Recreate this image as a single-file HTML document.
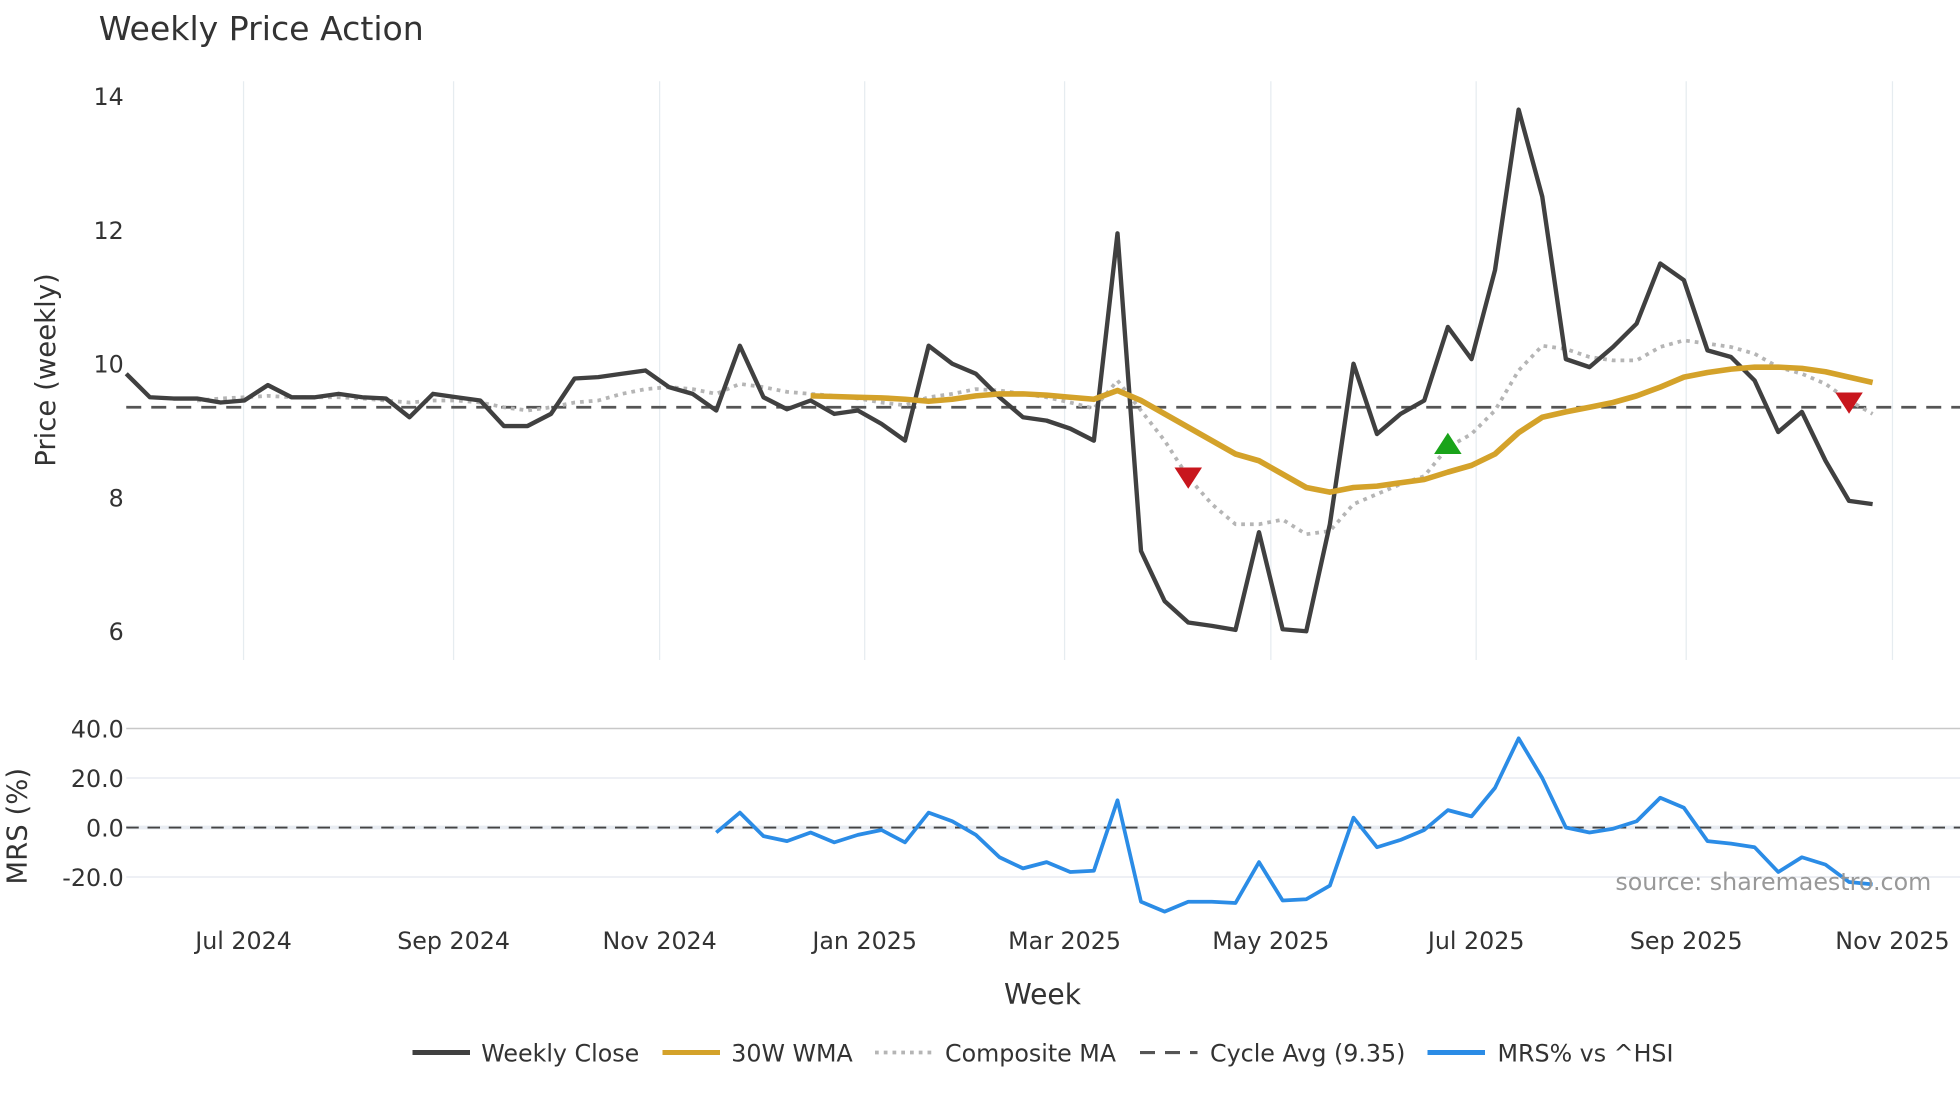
<!DOCTYPE html>
<html><head><meta charset="utf-8">
<style>
html,body{margin:0;padding:0;background:#fff;}
svg{display:block;font-family:"DejaVu Sans","Liberation Sans",sans-serif;}
</style></head>
<body>
<svg id="chart" width="1960" height="1102" viewBox="0 0 1568 881.6" xmlns="http://www.w3.org/2000/svg">
<rect width="1568" height="881.6" fill="#fff"/>
<text x="79" y="32" font-size="26.5" fill="#333">Weekly Price Action</text>
<g id="grid"></g>
<g id="series"></g>
<text transform="translate(44,296) rotate(-90)" text-anchor="middle" font-size="22" fill="#333">Price (weekly)</text>
<text transform="translate(21,661) rotate(-90)" text-anchor="middle" font-size="22" fill="#333">MRS (%)</text>
<text x="834" y="803" text-anchor="middle" font-size="22.5" fill="#333">Week</text>
<text x="1545" y="712" text-anchor="end" font-size="19" fill="#999">source: sharemaestro.com</text>
<g font-size="19" fill="#333">
 <g><line x1="330" y1="842" x2="376" y2="842" stroke="#404040" stroke-width="4"/><text x="385" y="849">Weekly Close</text></g>
 <g><line x1="530" y1="842" x2="576" y2="842" stroke="#d4a22a" stroke-width="4"/><text x="585" y="849">30W WMA</text></g>
 <g><line x1="700" y1="842" x2="746" y2="842" stroke="#b5b5b5" stroke-width="3" stroke-dasharray="3,4"/><text x="756" y="849">Composite MA</text></g>
 <g><line x1="912" y1="842" x2="958" y2="842" stroke="#555" stroke-width="2.5" stroke-dasharray="12,8"/><text x="968" y="849">Cycle Avg (9.35)</text></g>
 <g><line x1="1142" y1="842" x2="1188" y2="842" stroke="#2b8ce6" stroke-width="4"/><text x="1198" y="849">MRS% vs ^HSI</text></g>
</g>
</svg>
<script>
const closeVals=[9.85,9.5,9.48,9.48,9.42,9.45,9.68,9.5,9.5,9.55,9.5,9.48,9.2,9.55,9.5,9.45,9.07,9.07,9.25,9.78,9.8,9.85,9.9,9.65,9.55,9.3,10.27,9.5,9.32,9.45,9.25,9.3,9.1,8.85,10.27,10.0,9.85,9.5,9.2,9.15,9.03,8.85,11.95,7.2,6.45,6.13,6.08,6.02,7.48,6.03,6.0,7.6,10.0,8.95,9.25,9.45,10.55,10.07,11.4,13.8,12.5,10.07,9.95,10.25,10.6,11.5,11.25,10.2,10.1,9.75,8.98,9.28,8.55,7.95,7.9];
const wmaStart=29;
const wmaVals=[9.52,9.51,9.5,9.49,9.47,9.44,9.47,9.52,9.55,9.55,9.53,9.5,9.47,9.6,9.45,9.25,9.05,8.85,8.65,8.55,8.35,8.15,8.08,8.15,8.17,8.22,8.27,8.38,8.48,8.65,8.97,9.2,9.28,9.35,9.42,9.52,9.65,9.8,9.87,9.92,9.95,9.95,9.93,9.88,9.8,9.72];
const compStart=3;
const compVals=[9.45,9.48,9.5,9.52,9.5,9.5,9.5,9.48,9.45,9.42,9.45,9.45,9.42,9.35,9.3,9.35,9.42,9.45,9.55,9.62,9.65,9.62,9.55,9.7,9.65,9.58,9.55,9.52,9.48,9.42,9.38,9.5,9.55,9.62,9.6,9.55,9.5,9.42,9.33,9.75,9.3,8.85,8.3,7.9,7.6,7.6,7.67,7.45,7.5,7.9,8.05,8.2,8.32,8.75,8.95,9.3,9.9,10.27,10.22,10.1,10.05,10.05,10.25,10.35,10.3,10.25,10.15,9.95,9.85,9.7,9.45,9.25];
const mrsStart=25;
const mrsVals=[-2,6,-3.5,-5.5,-2,-6,-3,-1,-6,6,2.5,-3,-12,-16.5,-14,-18,-17.5,11,-30,-34,-30,-30,-30.5,-14,-29.5,-29,-23.5,4,-8,-5,-1,7,4.5,16,36,20,0,-2,-0.5,2.5,12,8,-5.5,-6.5,-8,-18,-12,-15,-22,-23];
const cycleAvg=9.35;
const sellIdx=[45,73];const sellVals=[8.3,9.42];
const buyIdx=[56];const buyVals=[8.8];
const priceTicks=[6,8,10,12,14];
const mrsTicks=[-20,0,20,40];
const dateLabels=["Jul 2024","Sep 2024","Nov 2024","Jan 2025","Mar 2025","May 2025","Jul 2025","Sep 2025","Nov 2025"];
const dateWeekPos=[4.97,13.87,22.6,31.29,39.76,48.5,57.2,66.1,74.84];

const NS="http://www.w3.org/2000/svg";
const X=i=>101+i*18.88;
const Y=v=>505-(v-6)*53.5;
const YM=v=>662-v*1.98;
const grid=document.getElementById('grid'),ser=document.getElementById('series');
function mk(tag,attrs,parent){const e=document.createElementNS(NS,tag);for(const k in attrs)e.setAttribute(k,attrs[k]);parent.appendChild(e);return e;}
dateLabels.forEach((d,k)=>{
 const gl=mk('line',{x1:X(dateWeekPos[k]),x2:X(dateWeekPos[k]),y1:65,y2:528,stroke:'#e6ecf0','stroke-width':1},grid);
 
 
 const t=mk('text',{x:X(dateWeekPos[k]),y:759,'text-anchor':'middle','font-size':19,fill:'#333'},grid);
 t.textContent=d;
 
 
});
priceTicks.forEach(v=>{
 const t=mk('text',{x:99,y:Y(v)+7,'text-anchor':'end','font-size':19,fill:'#333'},grid);
 t.textContent=v;
 
 
});
mrsTicks.forEach(v=>{
 const gl=mk('line',{x1:101,x2:1568,y1:YM(v),y2:YM(v),stroke:v===40?'#c8c8c8':'#e8ecf2','stroke-width':v===0?3:1.2},grid);
 
 
 const t=mk('text',{x:99,y:YM(v)+7,'text-anchor':'end','font-size':19,fill:'#333'},grid);
 t.textContent=v.toFixed(1);
 
 
});
const z=mk('line',{x1:101,x2:1568,y1:YM(0),y2:YM(0),stroke:'#444','stroke-width':1.5,'stroke-dasharray':'10,7'},grid);


const ca=mk('line',{x1:101,x2:1568,y1:Y(cycleAvg),y2:Y(cycleAvg),stroke:'#555','stroke-width':2.2,'stroke-dasharray':'12,8'},ser);


function path(vals,start,yf,attrs,name){
 const d=vals.map((v,i)=>(i?'L':'M')+X(start+i).toFixed(1)+','+yf(v).toFixed(1)).join('');
 const p=mk('path',Object.assign({d:d,fill:'none','stroke-linejoin':'round'},attrs),ser);
 
 
}
path(compVals,compStart,Y,{stroke:'#b5b5b5','stroke-width':3,'stroke-dasharray':'3,4'},'composite-ma-line');
path(closeVals,0,Y,{stroke:'#404040','stroke-width':3.5},'weekly-close-line');
path(wmaVals,wmaStart,Y,{stroke:'#d4a22a','stroke-width':4.5},'wma-line');
path(mrsVals,mrsStart,YM,{stroke:'#2b8ce6','stroke-width':3},'mrs-line');
sellIdx.forEach((i,k)=>{const x=X(i),y=Y(sellVals[k]);
 const p=mk('path',{d:`M${x-11},${y-8}L${x+11},${y-8}L${x},${y+9}Z`,fill:'#c8161d'},ser);
 
 });
buyIdx.forEach((i,k)=>{const x=X(i),y=Y(buyVals[k]);
 const p=mk('path',{d:`M${x-11},${y+8}L${x+11},${y+8}L${x},${y-9}Z`,fill:'#1aa31a'},ser);
 
 });
</script>
</body></html>
